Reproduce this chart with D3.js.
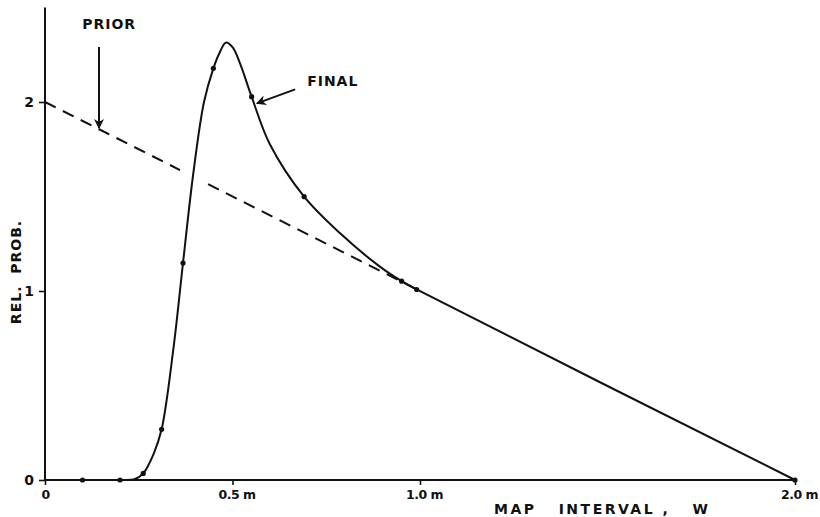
<!DOCTYPE html>
<html>
<head>
<meta charset="utf-8">
<script src="https://cdn.jsdelivr.net/npm/d3@7"></script>
<style>
  body { margin: 0; background: #fff; }
  text { font-family: "DejaVu Sans", sans-serif; font-weight: bold; fill: #111; }
</style>
</head>
<body>
<script>
// final curve
var finalW = [0, 0.1, 0.2, 0.24, 0.262, 0.29, 0.311, 0.342, 0.368, 0.3955, 0.424, 0.449, 0.465, 0.482, 0.50, 0.52, 0.551, 0.60, 0.691, 0.787, 0.893, 0.951, 0.991, 2.0]
var finalP = [0, 0, 0, 0.005, 0.035, 0.14, 0.268, 0.688, 1.148, 1.623, 2.0, 2.178, 2.258, 2.314, 2.29, 2.205, 2.028, 1.775, 1.499, 1.305, 1.129, 1.052, 1.008, 0]
// points marked with a dot
var dotW = [0.1, 0.2, 0.262, 0.311, 0.368, 0.449, 0.551, 0.691, 0.951, 0.991, 2.0]
var dotP = [0, 0, 0.035, 0.268, 1.148, 2.178, 2.028, 1.499, 1.052, 1.008, 0]
// prior (dashed), broken where the final curve crosses it
var priorSegW = [[0, 0.36], [0.435, 1.0]]
var priorSegP = [[2, 1.64], [1.565, 1.0]]

var yTicks = [0, 1, 2]
var xTicks = [0, 0.5, 1.0, 2.0]
var xTickLabels = ['0', '0.5 m', '1.0 m', '2.0 m']

var width = 820, height = 517

var x = d3.scaleLinear().domain([0, 2]).range([45, 795])
var y = d3.scaleLinear().domain([0, 2.5]).range([480, 7.5])

var svg = d3.select('body')
  .append('svg')
  .attr('width', width)
  .attr('height', height)

svg.append('defs').append('marker')
  .attr('id', 'head')
  .attr('viewBox', '0 0 10 10')
  .attr('refX', 9)
  .attr('refY', 5)
  .attr('markerWidth', 5)
  .attr('markerHeight', 5)
  .attr('markerUnits', 'strokeWidth')
  .attr('orient', 'auto')
  .append('path')
  .attr('d', 'M0,0 L10,5 L0,10 L3,5 Z')
  .style('fill', '#111')

// axes
var yAxis = d3.axisLeft(y).tickValues(yTicks).tickSize(6).tickFormat(d3.format('d'))
var xAxis = d3.axisBottom(x).tickValues(xTicks).tickSize(5)
  .tickFormat(function(d, i) { return xTickLabels[i] })

var gy = svg.append('g').attr('transform', 'translate(' + x(0) + ',0)').call(yAxis)
var gx = svg.append('g').attr('transform', 'translate(0,' + y(0) + ')').call(xAxis)

;[gx, gy].forEach(function(g) {
  g.select('.domain').remove()
  g.selectAll('.tick line').style('stroke', '#111').style('stroke-width', 1.6)
})
gy.selectAll('.tick text')
  .attr('x', -11)
  .style('font-size', '14px')
gx.selectAll('.tick text')
  .attr('y', 10)
  .attr('dx', function(d) { return d === 0 ? 0 : 4 })
  .style('font-size', '12.5px')
  .style('letter-spacing', '-0.5px')

svg.append('line')
  .attr('x1', x(0)).attr('x2', x(0))
  .attr('y1', y(2.5)).attr('y2', y(0) + 1)
  .style('stroke', '#111').style('stroke-width', 2)
svg.append('line')
  .attr('x1', x(0)).attr('x2', x(2) + 2)
  .attr('y1', y(0)).attr('y2', y(0))
  .style('stroke', '#111').style('stroke-width', 2)

// prior
var line = d3.line()
  .x(function(d) { return x(d[0]) })
  .y(function(d) { return y(d[1]) })

svg.selectAll('.prior')
  .data(priorSegW.map(function(s, i) { return d3.zip(s, priorSegP[i]) }))
  .enter().append('path')
  .classed('prior', true)
  .attr('d', line)
  .style('fill', 'none')
  .style('stroke', '#111')
  .style('stroke-width', 2)
  .style('stroke-dasharray', '12,8')

// final
svg.append('path')
  .datum(d3.zip(finalW, finalP))
  .attr('d', line.curve(d3.curveCatmullRom.alpha(0.5)))
  .style('fill', 'none')
  .style('stroke', '#111')
  .style('stroke-width', 2)

svg.selectAll('.dot')
  .data(d3.zip(dotW, dotP))
  .enter().append('circle')
  .classed('dot', true)
  .attr('cx', function(d) { return x(d[0]) })
  .attr('cy', function(d) { return y(d[1]) })
  .attr('r', 2.6)
  .style('fill', '#111')

// annotations
var notes = [
  {text: 'PRIOR', w: 0.099, p: 2.386, from: [0.144, 2.291], to: [0.144, 1.862]},
  {text: 'FINAL', w: 0.699, p: 2.085, from: [0.667, 2.067], to: [0.565, 1.993]}
]

notes.forEach(function(n) {
  svg.append('text')
    .attr('x', x(n.w))
    .attr('y', y(n.p))
    .style('font-size', '14px')
    .style('letter-spacing', '1px')
    .text(n.text)
  svg.append('line')
    .attr('x1', x(n.from[0])).attr('y1', y(n.from[1]))
    .attr('x2', x(n.to[0])).attr('y2', y(n.to[1]))
    .style('stroke', '#111')
    .style('stroke-width', 2)
    .attr('marker-end', 'url(#head)')
})

svg.append('text')
  .attr('transform', 'translate(21,272) rotate(-90)')
  .attr('text-anchor', 'middle')
  .style('font-size', '14px')
  .style('letter-spacing', '1px')
  .style('white-space', 'pre')
  .text('REL.  PROB.')

svg.append('text')
  .attr('x', 494)
  .attr('y', 514)
  .style('font-size', '14px')
  .style('letter-spacing', '2.5px')
  .style('white-space', 'pre')
  .text('MAP   INTERVAL ,   W')
</script>
</body>
</html>
